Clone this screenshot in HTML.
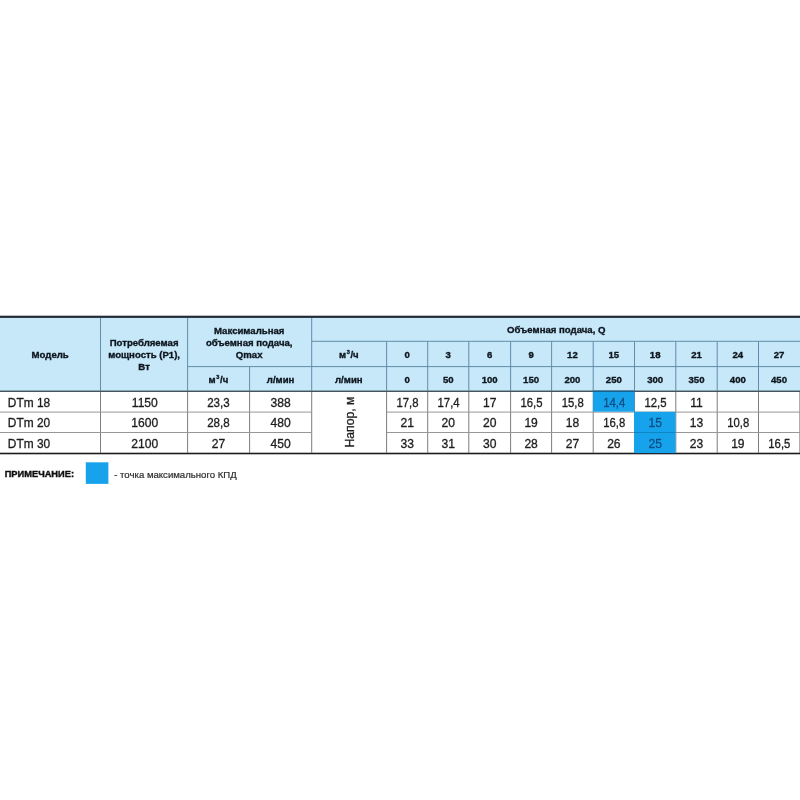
<!DOCTYPE html>
<html lang="ru"><head><meta charset="utf-8"><title>DTm</title>
<style>
html,body{margin:0;padding:0;background:#fff;}
body{width:800px;height:800px;overflow:hidden;}
svg{display:block;}
text{font-family:"Liberation Sans",sans-serif;}
.h{font-weight:bold;font-size:9.6px;fill:#0e151e;stroke:#0e151e;stroke-width:0.34px;}
.sup{font-size:5.6px;}
.b{font-size:12.6px;fill:#1e1e1e;stroke:#1e1e1e;stroke-width:0.32px;}
.n1{font-weight:bold;font-size:9.2px;fill:#111;stroke:#111;stroke-width:0.4px;}
.n2{font-size:9.6px;fill:#2c2c2c;stroke:#2c2c2c;stroke-width:0.2px;}
</style></head>
<body>
<svg width="800" height="800" viewBox="0 0 800 800">
<defs><filter id="soft" x="-10" y="-10" width="820" height="820" filterUnits="userSpaceOnUse"><feGaussianBlur stdDeviation="0.35"/></filter></defs>
<rect x="0" y="0" width="800" height="800" fill="#ffffff"/>
<g filter="url(#soft)">
<rect x="-10" y="-10" width="820" height="820" fill="#ffffff"/>
<rect x="-5.00" y="317.00" width="810.00" height="74.50" fill="#c6e8f9"/>
<rect x="100.00" y="317.90" width="1.00" height="72.70" fill="#628ca8"/>
<rect x="100.00" y="391.90" width="1.00" height="60.80" fill="#7d7d7d"/>
<rect x="187.10" y="317.90" width="1.00" height="72.70" fill="#628ca8"/>
<rect x="187.10" y="391.90" width="1.00" height="60.80" fill="#7d7d7d"/>
<rect x="249.10" y="366.60" width="1.00" height="24.00" fill="#628ca8"/>
<rect x="249.10" y="391.90" width="1.00" height="60.80" fill="#7d7d7d"/>
<rect x="311.20" y="317.90" width="1.00" height="72.70" fill="#628ca8"/>
<rect x="311.20" y="391.90" width="1.00" height="60.80" fill="#7d7d7d"/>
<rect x="386.10" y="341.30" width="1.00" height="49.30" fill="#628ca8"/>
<rect x="386.10" y="391.90" width="1.00" height="60.80" fill="#7d7d7d"/>
<rect x="427.20" y="341.30" width="1.00" height="49.30" fill="#628ca8"/>
<rect x="427.20" y="391.90" width="1.00" height="60.80" fill="#7d7d7d"/>
<rect x="468.30" y="341.30" width="1.00" height="49.30" fill="#628ca8"/>
<rect x="468.30" y="391.90" width="1.00" height="60.80" fill="#7d7d7d"/>
<rect x="510.10" y="341.30" width="1.00" height="49.30" fill="#628ca8"/>
<rect x="510.10" y="391.90" width="1.00" height="60.80" fill="#7d7d7d"/>
<rect x="551.10" y="341.30" width="1.00" height="49.30" fill="#628ca8"/>
<rect x="551.10" y="391.90" width="1.00" height="60.80" fill="#7d7d7d"/>
<rect x="592.70" y="341.30" width="1.00" height="49.30" fill="#628ca8"/>
<rect x="592.70" y="391.90" width="1.00" height="60.80" fill="#7d7d7d"/>
<rect x="634.00" y="341.30" width="1.00" height="49.30" fill="#628ca8"/>
<rect x="634.00" y="391.90" width="1.00" height="60.80" fill="#7d7d7d"/>
<rect x="675.30" y="341.30" width="1.00" height="49.30" fill="#628ca8"/>
<rect x="675.30" y="391.90" width="1.00" height="60.80" fill="#7d7d7d"/>
<rect x="716.70" y="341.30" width="1.00" height="49.30" fill="#628ca8"/>
<rect x="716.70" y="391.90" width="1.00" height="60.80" fill="#7d7d7d"/>
<rect x="758.00" y="341.30" width="1.00" height="49.30" fill="#628ca8"/>
<rect x="758.00" y="391.90" width="1.00" height="60.80" fill="#7d7d7d"/>
<rect x="799.20" y="391.90" width="0.80" height="60.80" fill="#9a9a9a"/>
<rect x="187.60" y="366.10" width="618.00" height="1.00" fill="#628ca8"/>
<rect x="311.70" y="340.80" width="494.00" height="1.00" fill="#628ca8"/>
<rect x="-5.00" y="411.60" width="316.70" height="1.00" fill="#979797"/>
<rect x="386.60" y="411.60" width="420.00" height="1.00" fill="#979797"/>
<rect x="-5.00" y="432.00" width="316.70" height="1.00" fill="#979797"/>
<rect x="386.60" y="432.00" width="420.00" height="1.00" fill="#979797"/>
<rect x="-5.00" y="315.70" width="810.00" height="2.20" fill="#222c35"/>
<rect x="-5.00" y="390.60" width="810.00" height="1.30" fill="#35424c"/>
<rect x="-5.00" y="452.70" width="810.00" height="1.60" fill="#1c1c1c"/>
<rect x="593.00" y="391.50" width="41.50" height="20.20" fill="#18a3ec"/>
<rect x="634.00" y="411.80" width="41.50" height="41.30" fill="#18a3ec"/>
<rect x="593.00" y="390.60" width="41.50" height="1.20" fill="#0c5c8c"/>
<rect x="634.00" y="432.00" width="41.50" height="1.00" fill="#0f84c4"/>
<text class="h" text-anchor="middle" transform="translate(50.20,358.10) scale(1.0,1)">Модель</text>
<text class="h" text-anchor="middle" transform="translate(144.10,345.60) scale(1.0,1)">Потребляемая</text>
<text class="h" text-anchor="middle" transform="translate(144.10,357.70) scale(1.0,1)">мощность (P1),</text>
<text class="h" text-anchor="middle" transform="translate(144.10,369.80) scale(1.0,1)">Вт</text>
<text class="h" text-anchor="middle" transform="translate(249.20,333.60) scale(1.0,1)">Максимальная</text>
<text class="h" text-anchor="middle" transform="translate(249.20,345.70) scale(1.0,1)">объемная подача,</text>
<text class="h" text-anchor="middle" transform="translate(249.20,357.80) scale(1.0,1)">Qmax</text>
<text class="h" text-anchor="middle" transform="translate(218.40,382.80) scale(1.0,1)">м<tspan class="sup" dx="0.6" dy="-3.8">3</tspan><tspan dx="0.7" dy="3.8">/ч</tspan></text>
<text class="h" text-anchor="middle" transform="translate(280.60,382.80) scale(1.0,1)">л/мин</text>
<text class="h" text-anchor="middle" transform="translate(556.30,333.40) scale(1.0,1)">Объемная подача, Q</text>
<text class="h" text-anchor="middle" transform="translate(348.80,357.90) scale(1.0,1)">м<tspan class="sup" dx="0.6" dy="-3.8">3</tspan><tspan dx="0.7" dy="3.8">/ч</tspan></text>
<text class="h" text-anchor="middle" transform="translate(348.80,382.80) scale(1.0,1)">л/мин</text>
<text class="h" text-anchor="middle" transform="translate(407.15,358.00) scale(1.0,1)">0</text>
<text class="h" text-anchor="middle" transform="translate(407.15,382.80) scale(1.0,1)">0</text>
<text class="h" text-anchor="middle" transform="translate(448.25,358.00) scale(1.0,1)">3</text>
<text class="h" text-anchor="middle" transform="translate(448.25,382.80) scale(1.0,1)">50</text>
<text class="h" text-anchor="middle" transform="translate(489.70,358.00) scale(1.0,1)">6</text>
<text class="h" text-anchor="middle" transform="translate(489.70,382.80) scale(1.0,1)">100</text>
<text class="h" text-anchor="middle" transform="translate(531.10,358.00) scale(1.0,1)">9</text>
<text class="h" text-anchor="middle" transform="translate(531.10,382.80) scale(1.0,1)">150</text>
<text class="h" text-anchor="middle" transform="translate(572.40,358.00) scale(1.0,1)">12</text>
<text class="h" text-anchor="middle" transform="translate(572.40,382.80) scale(1.0,1)">200</text>
<text class="h" text-anchor="middle" transform="translate(613.85,358.00) scale(1.0,1)">15</text>
<text class="h" text-anchor="middle" transform="translate(613.85,382.80) scale(1.0,1)">250</text>
<text class="h" text-anchor="middle" transform="translate(655.15,358.00) scale(1.0,1)">18</text>
<text class="h" text-anchor="middle" transform="translate(655.15,382.80) scale(1.0,1)">300</text>
<text class="h" text-anchor="middle" transform="translate(696.50,358.00) scale(1.0,1)">21</text>
<text class="h" text-anchor="middle" transform="translate(696.50,382.80) scale(1.0,1)">350</text>
<text class="h" text-anchor="middle" transform="translate(737.85,358.00) scale(1.0,1)">24</text>
<text class="h" text-anchor="middle" transform="translate(737.85,382.80) scale(1.0,1)">400</text>
<text class="h" text-anchor="middle" transform="translate(779.00,358.00) scale(1.0,1)">27</text>
<text class="h" text-anchor="middle" transform="translate(779.00,382.80) scale(1.0,1)">450</text>
<text class="b" text-anchor="start" transform="translate(7.80,406.70) scale(0.945,1)">DTm 18</text>
<text class="b" text-anchor="middle" transform="translate(144.80,406.70) scale(0.96,1)">1150</text>
<text class="b" text-anchor="middle" transform="translate(218.40,406.70) scale(0.92,1)">23,3</text>
<text class="b" text-anchor="middle" transform="translate(280.60,406.70) scale(0.96,1)">388</text>
<text class="b" text-anchor="middle" transform="translate(407.45,406.70) scale(0.9,1)">17,8</text>
<text class="b" text-anchor="middle" transform="translate(448.55,406.70) scale(0.9,1)">17,4</text>
<text class="b" text-anchor="middle" transform="translate(489.70,406.70) scale(0.96,1)">17</text>
<text class="b" text-anchor="middle" transform="translate(531.40,406.70) scale(0.9,1)">16,5</text>
<text class="b" text-anchor="middle" transform="translate(572.70,406.70) scale(0.9,1)">15,8</text>
<text class="b" text-anchor="middle" transform="translate(614.15,406.70) scale(0.9,1)" style="fill:#094f86;stroke:#094f86">14,4</text>
<text class="b" text-anchor="middle" transform="translate(655.45,406.70) scale(0.9,1)">12,5</text>
<text class="b" text-anchor="middle" transform="translate(696.50,406.70) scale(0.96,1)">11</text>
<text class="b" text-anchor="start" transform="translate(7.80,427.20) scale(0.945,1)">DTm 20</text>
<text class="b" text-anchor="middle" transform="translate(144.80,427.20) scale(0.96,1)">1600</text>
<text class="b" text-anchor="middle" transform="translate(218.40,427.20) scale(0.92,1)">28,8</text>
<text class="b" text-anchor="middle" transform="translate(280.60,427.20) scale(0.96,1)">480</text>
<text class="b" text-anchor="middle" transform="translate(407.15,427.20) scale(0.96,1)">21</text>
<text class="b" text-anchor="middle" transform="translate(448.25,427.20) scale(0.96,1)">20</text>
<text class="b" text-anchor="middle" transform="translate(489.70,427.20) scale(0.96,1)">20</text>
<text class="b" text-anchor="middle" transform="translate(531.10,427.20) scale(0.96,1)">19</text>
<text class="b" text-anchor="middle" transform="translate(572.40,427.20) scale(0.96,1)">18</text>
<text class="b" text-anchor="middle" transform="translate(614.15,427.20) scale(0.9,1)">16,8</text>
<text class="b" text-anchor="middle" transform="translate(655.15,427.20) scale(0.96,1)" style="fill:#094f86;stroke:#094f86">15</text>
<text class="b" text-anchor="middle" transform="translate(696.50,427.20) scale(0.96,1)">13</text>
<text class="b" text-anchor="middle" transform="translate(738.15,427.20) scale(0.9,1)">10,8</text>
<text class="b" text-anchor="start" transform="translate(7.80,447.70) scale(0.945,1)">DTm 30</text>
<text class="b" text-anchor="middle" transform="translate(144.80,447.70) scale(0.96,1)">2100</text>
<text class="b" text-anchor="middle" transform="translate(218.40,447.70) scale(0.96,1)">27</text>
<text class="b" text-anchor="middle" transform="translate(280.60,447.70) scale(0.96,1)">450</text>
<text class="b" text-anchor="middle" transform="translate(407.15,447.70) scale(0.96,1)">33</text>
<text class="b" text-anchor="middle" transform="translate(448.25,447.70) scale(0.96,1)">31</text>
<text class="b" text-anchor="middle" transform="translate(489.70,447.70) scale(0.96,1)">30</text>
<text class="b" text-anchor="middle" transform="translate(531.10,447.70) scale(0.96,1)">28</text>
<text class="b" text-anchor="middle" transform="translate(572.40,447.70) scale(0.96,1)">27</text>
<text class="b" text-anchor="middle" transform="translate(613.85,447.70) scale(0.96,1)">26</text>
<text class="b" text-anchor="middle" transform="translate(655.15,447.70) scale(0.96,1)" style="fill:#094f86;stroke:#094f86">25</text>
<text class="b" text-anchor="middle" transform="translate(696.50,447.70) scale(0.96,1)">23</text>
<text class="b" text-anchor="middle" transform="translate(737.85,447.70) scale(0.96,1)">19</text>
<text class="b" text-anchor="middle" transform="translate(779.30,447.70) scale(0.9,1)">16,5</text>
<text class="b" text-anchor="middle" transform="translate(353.5,422) rotate(-90) scale(0.97,1)">Напор, м</text>
<rect x="85.80" y="462.30" width="22.60" height="21.60" fill="#18a3ec"/>
<text class="n1" text-anchor="start" transform="translate(4.70,477.40) scale(1.01,1)">ПРИМЕЧАНИЕ:</text>
<text class="n2" text-anchor="start" transform="translate(114.20,477.80) scale(1.0,1)">- точка максимального КПД</text>
</g>
</svg>
</body></html>
